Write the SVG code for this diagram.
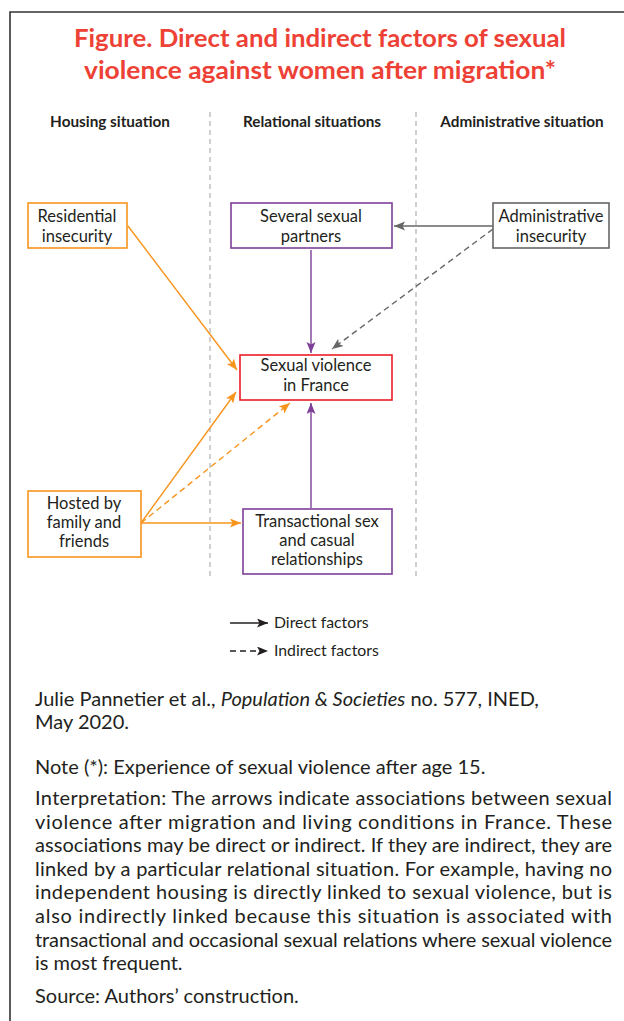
<svg xmlns="http://www.w3.org/2000/svg" width="624" height="1021" viewBox="0 0 624 1021">
<style>
.title{font-family:Lato,"Open Sans",sans-serif;font-weight:bold;font-size:24px;fill:#EE4136;text-anchor:middle}
.hdr{font-family:Lato,"Liberation Sans",sans-serif;font-weight:bold;font-size:15.3px;fill:#231f20;text-anchor:middle}
.lbl{font-family:Lato,"Liberation Sans",sans-serif;font-size:16.5px;fill:#231f20;text-anchor:middle}
.leg{font-family:Lato,"Liberation Sans",sans-serif;font-size:15.8px;fill:#231f20}
.body{font-family:Lato,"Liberation Sans",sans-serif;font-size:20px;fill:#231f20}
.div{stroke:#b0b0b0;stroke-width:1.2;stroke-dasharray:5 4;fill:none}
.box{fill:#fff;stroke-width:1.6}
.or{stroke:#F7941D}
.pu{stroke:#7E3F98}
.rd{stroke:#ED1C24}
.gy{stroke:#666666}
.c{fill:none;stroke-width:1.4}
.dash{stroke-dasharray:6 4}
</style>
<defs>
<marker id="aO" markerUnits="userSpaceOnUse" markerWidth="12" markerHeight="10" refX="11" refY="4.5" orient="auto"><path d="M0,0 L11,4.5 L0,9 L2.5,4.5 z" fill="#F7941D"/></marker>
<marker id="aP" markerUnits="userSpaceOnUse" markerWidth="12" markerHeight="10" refX="11" refY="4.5" orient="auto"><path d="M0,0 L11,4.5 L0,9 L2.5,4.5 z" fill="#7E3F98"/></marker>
<marker id="aG" markerUnits="userSpaceOnUse" markerWidth="12" markerHeight="10" refX="11" refY="4.5" orient="auto"><path d="M0,0 L11,4.5 L0,9 L2.5,4.5 z" fill="#666666"/></marker>
<marker id="aK" markerUnits="userSpaceOnUse" markerWidth="12" markerHeight="10" refX="11" refY="4.5" orient="auto"><path d="M0,0 L11,4.5 L0,9 L2.5,4.5 z" fill="#231f20"/></marker>
</defs>
<rect x="0" y="0" width="624" height="1021" fill="#fff"/>
<path d="M10,1021 V12 H624" fill="none" stroke="#333" stroke-width="1.6"/>

<g id="title">
<text class="title" x="320" y="47" textLength="492" lengthAdjust="spacingAndGlyphs">Figure. Direct and indirect factors of sexual</text>
<text class="title" x="320" y="79" textLength="472" lengthAdjust="spacingAndGlyphs">violence against women after migration*</text>
</g>

<g id="headers">
<text class="hdr" x="110" y="127">Housing situation</text>
<text class="hdr" x="312" y="127">Relational situations</text>
<text class="hdr" x="522" y="127">Administrative situation</text>
<line class="div" x1="210" y1="112" x2="210" y2="578"/>
<line class="div" x1="416" y1="112" x2="416" y2="578"/>
</g>

<g id="connectors">
<line class="c or" x1="128" y1="226" x2="237" y2="370" marker-end="url(#aO)"/>
<line class="c pu" x1="311" y1="250" x2="311" y2="353" marker-end="url(#aP)"/>
<line class="c gy" x1="493" y1="226" x2="394" y2="226" marker-end="url(#aG)"/>
<line class="c gy dash" x1="493" y1="229" x2="332" y2="349" marker-end="url(#aG)"/>
<line class="c or" x1="141" y1="523" x2="236" y2="392" marker-end="url(#aO)"/>
<line class="c or dash" x1="141" y1="523" x2="290" y2="403" marker-end="url(#aO)"/>
<line class="c or" x1="141" y1="523" x2="241" y2="523" marker-end="url(#aO)"/>
<line class="c pu" x1="311" y1="508" x2="311" y2="403" marker-end="url(#aP)"/>
</g>

<g id="residential">
<rect class="box or" x="28" y="203" width="99" height="45"/>
<text class="lbl" x="77" y="222">Residential</text>
<text class="lbl" x="77" y="242">insecurity</text>
</g>
<g id="partners">
<rect class="box pu" x="231" y="203" width="161" height="45"/>
<text class="lbl" x="311" y="222">Several sexual</text>
<text class="lbl" x="311" y="242">partners</text>
</g>
<g id="administrative">
<rect class="box gy" x="493" y="203" width="116" height="45"/>
<text class="lbl" x="551" y="222">Administrative</text>
<text class="lbl" x="551" y="242">insecurity</text>
</g>
<g id="violence">
<rect class="box rd" x="240" y="355" width="152" height="45"/>
<text class="lbl" x="316" y="371">Sexual violence</text>
<text class="lbl" x="316" y="391">in France</text>
</g>
<g id="hosted">
<rect class="box or" x="28" y="491" width="113" height="66"/>
<text class="lbl" x="84" y="509">Hosted by</text>
<text class="lbl" x="84" y="528">family and</text>
<text class="lbl" x="84" y="547">friends</text>
</g>
<g id="transactional">
<rect class="box pu" x="243" y="509" width="149" height="65"/>
<text class="lbl" x="317" y="527">Transactional sex</text>
<text class="lbl" x="317" y="546">and casual</text>
<text class="lbl" x="317" y="565">relationships</text>
</g>

<g id="legend">
<line class="c" stroke="#231f20" x1="230" y1="623" x2="268" y2="623" marker-end="url(#aK)"/>
<text class="leg" x="274" y="628">Direct factors</text>
<line class="c dash" stroke="#231f20" x1="230" y1="651" x2="268" y2="651" marker-end="url(#aK)" stroke-dasharray="5 5"/>
<text class="leg" x="274" y="656">Indirect factors</text>
</g>

<g id="notes">
<text class="body" x="35" y="706">Julie Pannetier et al., <tspan font-style="italic">Population &amp; Societies</tspan> no. 577, INED,</text>
<text class="body" x="35" y="729">May 2020.</text>
<text class="body" x="35" y="774">Note (*): Experience of sexual violence after age 15.</text>
<text class="body" x="35" y="805" textLength="577" lengthAdjust="spacing">Interpretation: The arrows indicate associations between sexual</text>
<text class="body" x="35" y="829" textLength="577" lengthAdjust="spacing">violence after migration and living conditions in France. These</text>
<text class="body" x="35" y="852" textLength="577" lengthAdjust="spacing">associations may be direct or indirect. If they are indirect, they are</text>
<text class="body" x="35" y="876" textLength="577" lengthAdjust="spacing">linked by a particular relational situation. For example, having no</text>
<text class="body" x="35" y="899" textLength="577" lengthAdjust="spacing">independent housing is directly linked to sexual violence, but is</text>
<text class="body" x="35" y="923" textLength="577" lengthAdjust="spacing">also indirectly linked because this situation is associated with</text>
<text class="body" x="35" y="947" textLength="577" lengthAdjust="spacing">transactional and occasional sexual relations where sexual violence</text>
<text class="body" x="35" y="970">is most frequent.</text>
<text class="body" x="35" y="1003">Source: Authors’ construction.</text>
</g>
</svg>
